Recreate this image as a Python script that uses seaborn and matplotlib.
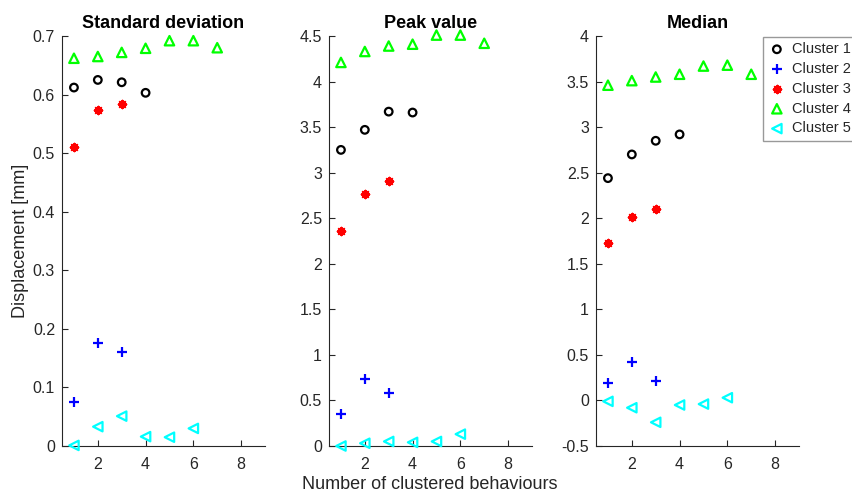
import matplotlib
matplotlib.use("Agg")
import matplotlib.pyplot as plt
import seaborn as sns
import pandas as pd

# ---- data ----
clusters = ["Cluster 1", "Cluster 2", "Cluster 3", "Cluster 4", "Cluster 5"]
titles = ["Standard deviation", "Peak value", "Median"]

x_c1 = [1, 2, 3, 4]
x_c2 = [1, 2, 3]
x_c3 = [1, 2, 3]
x_c4 = [1, 2, 3, 4, 5, 6, 7]
x_c5 = [1, 2, 3, 4, 5, 6]

std_c1 = [0.612, 0.625, 0.621, 0.603]
std_c2 = [0.075, 0.176, 0.160]
std_c3 = [0.511, 0.573, 0.584]
std_c4 = [0.662, 0.665, 0.672, 0.679, 0.692, 0.692, 0.680]
std_c5 = [0.001, 0.033, 0.051, 0.016, 0.015, 0.030]

peak_c1 = [3.25, 3.47, 3.67, 3.66]
peak_c2 = [0.35, 0.74, 0.58]
peak_c3 = [2.36, 2.77, 2.91]
peak_c4 = [4.21, 4.33, 4.39, 4.41, 4.51, 4.51, 4.42]
peak_c5 = [0.00, 0.03, 0.05, 0.04, 0.05, 0.13]

med_c1 = [2.44, 2.70, 2.85, 2.92]
med_c2 = [0.19, 0.42, 0.21]
med_c3 = [1.73, 2.01, 2.10]
med_c4 = [3.46, 3.51, 3.55, 3.58, 3.67, 3.68, 3.58]
med_c5 = [-0.01, -0.08, -0.24, -0.05, -0.04, 0.03]

xs = [x_c1, x_c2, x_c3, x_c4, x_c5]
panels = [
    [std_c1, std_c2, std_c3, std_c4, std_c5],
    [peak_c1, peak_c2, peak_c3, peak_c4, peak_c5],
    [med_c1, med_c2, med_c3, med_c4, med_c5],
]
ylims = [(0, 0.7), (0, 4.5), (-0.5, 4)]
yticks = [
    [0, 0.1, 0.2, 0.3, 0.4, 0.5, 0.6, 0.7],
    [0, 0.5, 1, 1.5, 2, 2.5, 3, 3.5, 4, 4.5],
    [-0.5, 0, 0.5, 1, 1.5, 2, 2.5, 3, 3.5, 4],
]
xticks = [2, 4, 6, 8]

# ---- style ----
sns.set_theme(style="white")
plt.rcParams["font.family"] = ["Liberation Sans", "DejaVu Sans"]
plt.rcParams["xtick.direction"] = "in"
plt.rcParams["ytick.direction"] = "in"

axc = (0.15, 0.15, 0.15)
colors = ["black", "blue", "red", (0.0, 1.0, 0.0), (0.0, 1.0, 1.0)]
markers = ["o", "+", (8, 2, 0), "^", "<"]
sizes = [30, 42, 28, 46, 46]
openm = [True, False, False, True, True]

fig = plt.figure(figsize=(8.53, 4.98), dpi=100)
lefts = [62 / 853, 329 / 853, 596 / 853]
w = 203 / 853
bottom = 1 - 446 / 498
h = 410 / 498
axes = [fig.add_axes([l, bottom, w, h]) for l in lefts]

for pi, ax in enumerate(axes):
    for ci in range(5):
        df = pd.DataFrame({"x": xs[ci], "y": panels[pi][ci]})
        kw = dict(marker=markers[ci], s=sizes[ci], linewidth=1.6, label=clusters[ci])
        if openm[ci]:
            kw.update(facecolor="none", edgecolor=colors[ci])
        else:
            kw.update(color=colors[ci])
        sns.scatterplot(data=df, x="x", y="y", ax=ax, legend=False, clip_on=False, zorder=3, **kw)
    ax.set_xlim(0.5, 9)
    ax.set_ylim(*ylims[pi])
    ax.set_xticks(xticks)
    ax.set_yticks(yticks[pi])
    ax.set_yticklabels([("%g" % v) for v in yticks[pi]])
    ax.set_xlabel("")
    ax.set_ylabel("")
    ax.set_title(titles[pi], fontsize=13, fontweight="bold", color="black", pad=5.5)
    for s in ["top", "right"]:
        ax.spines[s].set_visible(False)
    for s in ["left", "bottom"]:
        ax.spines[s].set_color(axc)
        ax.spines[s].set_linewidth(0.8)
    ax.tick_params(axis="both", colors=axc, labelsize=11.5, length=4, width=0.8,
                   left=True, bottom=True)
    ax.tick_params(axis="y", pad=5)
    ax.tick_params(axis="x", pad=8)
    for lab in ax.get_xticklabels() + ax.get_yticklabels():
        lab.set_color(axc)

axes[0].set_ylabel("Displacement [mm]", fontsize=13, color=axc, labelpad=3)
fig.text(430 / 853, 1 - 484 / 498, "Number of clustered behaviours", ha="center", va="center",
         fontsize=13, color=axc)

handles, labels = axes[2].get_legend_handles_labels()
leg = fig.legend(handles, labels, loc="upper left", bbox_to_anchor=(763 / 853, 1 - 37 / 498),
                 bbox_transform=fig.transFigure, frameon=True, fancybox=False, fontsize=10.5,
                 handletextpad=0.45, borderpad=0.35, labelspacing=0.4, handlelength=1.2,
                 borderaxespad=0)
leg.get_frame().set_edgecolor((0.5, 0.5, 0.5))
leg.get_frame().set_linewidth(1.0)

fig.savefig("out.png", dpi=100)
